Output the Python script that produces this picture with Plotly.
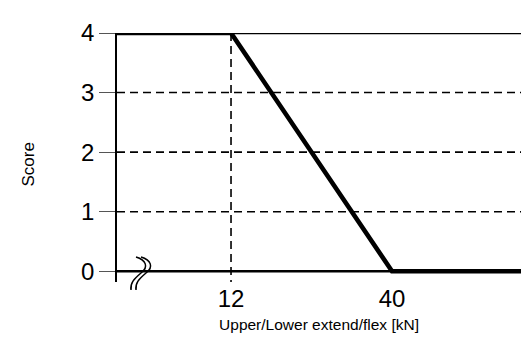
import plotly.graph_objects as go

# Scoring curve: full score up to 12 kN, falling linearly to zero at 40 kN
x_min, x_max = -7.83, 62.43          # visible span of the (broken) force axis
force_kn = [x_min, 12, 40, x_max]
score = [4, 4, 0, 0]

x_tick_vals = [12, 40]
x_tick_text = ["12", "40"]
y_tick_vals = [0, 1, 2, 3, 4]
y_tick_text = ["0", "1", "2", "3", "4"]
dashed_levels = [1, 2, 3]
solid_levels = [0, 4]
threshold_kn = 12

y_min, y_max = -0.18, 4.0
FONT = "Liberation Sans, Arial, sans-serif"

W, H = 521, 353
M_L, M_R, M_T, M_B = 117, 0, 33, 71
PLOT_W, PLOT_H = W - M_L - M_R, H - M_T - M_B

fig = go.Figure()

fig.add_trace(go.Scatter(
    x=force_kn, y=score, mode="lines",
    line=dict(color="black", width=4.6),
    hoverinfo="skip", showlegend=False, cliponaxis=False,
))

shapes = []
for lvl in dashed_levels:
    shapes.append(dict(type="line", xref="paper", yref="y", x0=0, x1=1, y0=lvl, y1=lvl,
                       line=dict(color="black", width=1.6, dash="8px,5px"), layer="below"))
for lvl in solid_levels:
    shapes.append(dict(type="line", xref="paper", yref="y", x0=0, x1=1, y0=lvl, y1=lvl,
                       line=dict(color="black", width=2.6), layer="below"))
shapes.append(dict(type="line", xref="x", yref="y", x0=threshold_kn, x1=threshold_kn,
                   y0=y_max, y1=y_min,
                   line=dict(color="black", width=1.6, dash="8px,5px"), layer="below"))


# Axis-break mark near the origin: two S-shaped strokes, drawn in paper space so
# they may hang below the plotting area
def to_paper(px, py):
    return (px - M_L) / PLOT_W, (H - M_B - py) / PLOT_H


def break_stroke(dx):
    pts = [(136, 257), (146, 260), (149, 267), (141, 273),
           (134, 279), (130, 283), (131, 290)]
    pp = [to_paper(x + dx, y) for x, y in pts]
    f = lambda p: f"{p[0]:.5f},{p[1]:.5f}"
    path = (f"M {f(pp[0])} C {f(pp[1])} {f(pp[2])} {f(pp[3])}"
            f" C {f(pp[4])} {f(pp[5])} {f(pp[6])}")
    return dict(type="path", xref="paper", yref="paper", path=path,
                line=dict(color="black", width=1.5))


shapes.append(break_stroke(0))
shapes.append(break_stroke(5))

fig.update_layout(
    width=W, height=H,
    margin=dict(l=M_L, r=M_R, t=M_T, b=M_B),
    paper_bgcolor="white", plot_bgcolor="white",
    font=dict(family=FONT, color="black"),
    shapes=shapes,
    annotations=[dict(
        text="Score", textangle=-90, xref="paper", yref="paper",
        x=-0.219, y=0.47, xanchor="center", yanchor="middle", showarrow=False,
        font=dict(size=17, family=FONT, color="black"),
    )],
    xaxis=dict(
        range=[x_min, x_max], tickvals=x_tick_vals, ticktext=x_tick_text,
        showgrid=False, zeroline=False, showline=False, ticks="",
        tickfont=dict(size=24, family=FONT),
        title=dict(text="Upper/Lower extend/flex [kN]", font=dict(size=15.5, family=FONT), standoff=8),
        fixedrange=True,
    ),
    yaxis=dict(
        range=[y_min, y_max], tickvals=y_tick_vals, ticktext=y_tick_text,
        showgrid=False, zeroline=False,
        showline=True, linecolor="black", linewidth=1.5,
        ticks="outside", ticklen=16, tickcolor="#555555", tickwidth=1.2,
        tickfont=dict(size=24, family=FONT),
        fixedrange=True,
    ),
)

fig.write_html("out.html")
